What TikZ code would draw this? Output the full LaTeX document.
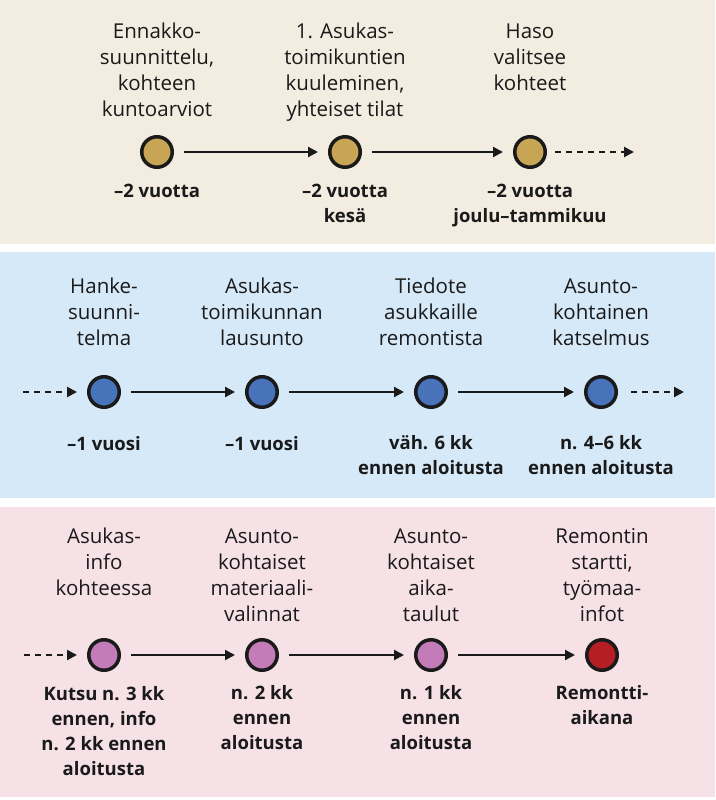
\documentclass[tikz,border=0pt]{standalone}
\usepackage{fontspec}
\setmainfont{Open Sans}
\usetikzlibrary{arrows.meta,positioning}

\definecolor{beigebg}{HTML}{F3EDE1}
\definecolor{bluebg}{HTML}{D6E9F8}
\definecolor{pinkbg}{HTML}{F6E1E6}
\definecolor{golddot}{HTML}{C8A555}
\definecolor{bluedot}{HTML}{4872BA}
\definecolor{purpledot}{HTML}{C47CB8}
\definecolor{reddot}{HTML}{B41E24}
\definecolor{ink}{HTML}{1A1A1A}

\begin{document}
\begin{tikzpicture}[x=1pt,y=-1pt,>={Triangle[length=10pt,width=10pt]},line width=2.1pt,draw=ink,text=ink]
	\tikzstyle{dot} = [draw=ink, circle, line width=3.5pt, minimum size=30.5pt, inner sep=0pt]
	\tikzstyle{phase} = [align=center, anchor=base, inner sep=0pt, font=\fontsize{20.5}{26}\selectfont]
	\tikzstyle{when} = [align=center, anchor=base, inner sep=0pt, font=\fontsize{18.5}{25}\selectfont\bfseries]
	\tikzstyle{flow} = [->, shorten <=10pt, shorten >=10pt]
	\tikzstyle{cont} = [->, dash pattern=on 6pt off 5pt]

	\useasboundingbox (0,0) rectangle (715,800);
	\fill[beigebg] (0,0) rectangle (715,244);
	\fill[bluebg] (0,252) rectangle (715,498);
	\fill[pinkbg] (0,507) rectangle (715,797);

	% ennakko (base = last line)
	\node [dot, fill=golddot] (a1) at (157,152) {};
	\node [dot, fill=golddot] (a2) at (345,152) {};
	\node [dot, fill=golddot] (a3) at (530,152) {};
	\coordinate (aend) at (634,152);

	\node [phase] (a1t) at (157,116) {Ennakko-\\suunnittelu,\\kohteen\\kuntoarviot};
	\node [phase] (a2t) at (345,116) {1. Asukas-\\toimikuntien\\kuuleminen,\\yhteiset tilat};
	\node [phase] (a3t) at (530,90) {Haso\\valitsee\\kohteet};
	\node [when] (a1w) at (157,197) {--2 vuotta};
	\node [when] (a2w) at (345,222) {--2 vuotta\\kesä};
	\node [when] (a3w) at (530,222) {--2 vuotta\\joulu--tammikuu};

	\draw [flow] (a1) -- (a2);
	\draw [flow] (a2) -- (a3);
	\draw [cont, shorten <=8pt] (a3) -- (aend);

	% hanke
	\coordinate (bstart) at (23,392);
	\node [dot, fill=bluedot] (b1) at (104,392) {};
	\node [dot, fill=bluedot] (b2) at (262,392) {};
	\node [dot, fill=bluedot] (b3) at (431,392) {};
	\node [dot, fill=bluedot] (b4) at (601,392) {};
	\coordinate (bend) at (684,392);

	\node [phase] (b1t) at (104,345) {Hanke-\\suunni-\\telma};
	\node [phase] (b2t) at (262,345) {Asukas-\\toimikunnan\\lausunto};
	\node [phase] (b3t) at (431,345) {Tiedote\\asukkaille\\remontista};
	\node [phase] (b4t) at (601,345) {Asunto-\\kohtainen\\katselmus};
	\node [when] (b1w) at (104,450) {--1 vuosi};
	\node [when] (b2w) at (262,450) {--1 vuosi};
	\node [when] (b3w) at (431,474) {väh. 6 kk\\ennen aloitusta};
	\node [when] (b4w) at (601,474) {n. 4--6 kk\\ennen aloitusta};

	\draw [cont, shorten >=10pt] (bstart) -- (b1);
	\draw [flow] (b1) -- (b2);
	\draw [flow] (b2) -- (b3);
	\draw [flow] (b3) -- (b4);
	\draw [cont, shorten <=13pt] (b4) -- (bend);

	% remontti
	\coordinate (cstart) at (24,655);
	\node [dot, fill=purpledot] (c1) at (104,655) {};
	\node [dot, fill=purpledot] (c2) at (262,655) {};
	\node [dot, fill=purpledot] (c3) at (431,655) {};
	\node [dot, fill=reddot] (c4) at (602,655) {};

	\node [phase] (c1t) at (104,595) {Asukas-\\info\\kohteessa};
	\node [phase] (c2t) at (262,621) {Asunto-\\kohtaiset\\materiaali-\\valinnat};
	\node [phase] (c3t) at (431,621) {Asunto-\\kohtaiset\\aika-\\taulut};
	\node [phase] (c4t) at (602,621) {Remontin\\startti,\\työmaa-\\infot};
	\node [when] (c1w) at (104,775) {Kutsu n. 3 kk\\ennen, info\\n. 2 kk ennen\\aloitusta};
	\node [when] (c2w) at (262,749) {n. 2 kk\\ennen\\aloitusta};
	\node [when] (c3w) at (431,749) {n. 1 kk\\ennen\\aloitusta};
	\node [when] (c4w) at (602,724) {Remontti-\\aikana};

	\draw [cont, shorten >=10pt] (cstart) -- (c1);
	\draw [flow] (c1) -- (c2);
	\draw [flow] (c2) -- (c3);
	\draw [flow] (c3) -- (c4);
\end{tikzpicture}
\end{document}
